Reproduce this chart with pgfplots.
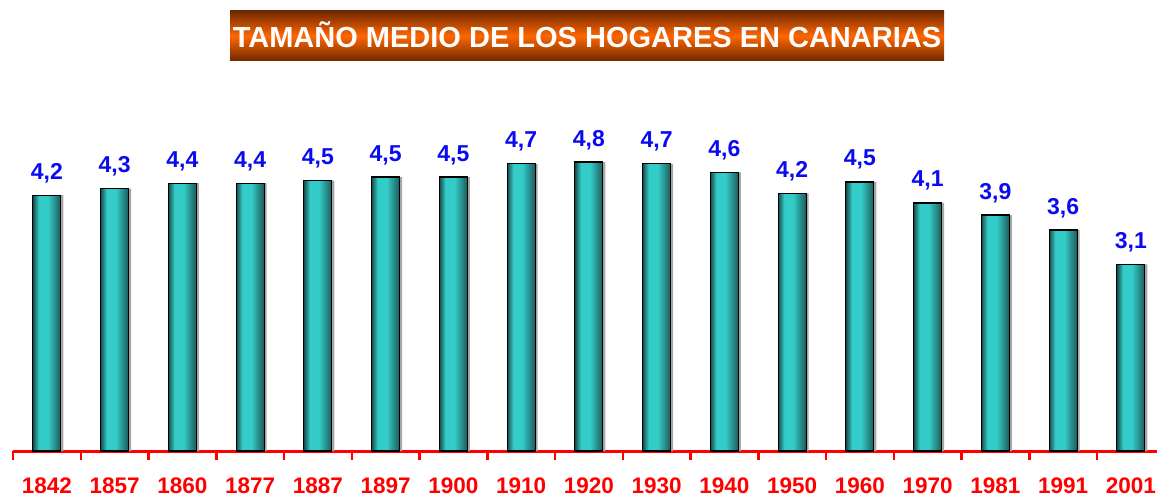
\documentclass[border=0pt]{standalone}
\usepackage{pgfplots}
\pgfplotsset{compat=1.18}
\usepackage{pgfplotstable}
\usepackage{fontspec}
\setmainfont{Liberation Sans}
\definecolor{barlight}{HTML}{34CCC8}
\definecolor{bardarkL}{HTML}{184C4C}
\definecolor{bardarkR}{HTML}{1C5A5A}
\definecolor{titdark}{HTML}{6E2800}
\definecolor{titlight}{HTML}{FF6600}
\definecolor{lblblue}{HTML}{0A0AF0}
\pgfdeclarehorizontalshading{barshade}{100bp}{color(0bp)=(bardarkL); color(25bp)=(bardarkL); color(36bp)=(barlight); color(52bp)=(barlight); color(75bp)=(bardarkR); color(100bp)=(bardarkR)}
\pgfplotstableread{
x y lab
0 4.25 4,2
1 4.36 4,3
2 4.45 4,4
3 4.45 4,4
4 4.49 4,5
5 4.55 4,5
6 4.55 4,5
7 4.77 4,7
8 4.80 4,8
9 4.77 4,7
10 4.63 4,6
11 4.28 4,2
12 4.47 4,5
13 4.12 4,1
14 3.92 3,9
15 3.67 3,6
16 3.10 3,1
}\data
\begin{document}
\begin{tikzpicture}
\useasboundingbox (0,0) rectangle (1157pt,499pt);
\shade[top color=titdark, bottom color=titdark, middle color=titlight] (230pt,438pt) rectangle (944pt,488pt);
\node[anchor=base, inner sep=0pt, text=white, font=\fontsize{29}{34}\selectfont\bfseries] at (587pt,451pt) {TAMAÑO MEDIO DE LOS HOGARES EN CANARIAS};
\begin{axis}[
  at={(13pt,48pt)}, anchor=south west,
  scale only axis, width=1144pt, height=301pt,
  xmin=-0.5, xmax=16.385, ymin=0, ymax=5,
  axis x line=bottom, axis y line=none,
  x axis line style={-, draw=red, line width=3pt},
  xtick={0,...,16},
  xticklabels={1842,1857,1860,1877,1887,1897,1900,1910,1920,1930,1940,1950,1960,1970,1981,1991,2001},
  major tick length=0pt,
  minor xtick={-0.5,0.5,...,15.5},
  minor tick length=9pt,
  tick align=outside,
  minor tick style={draw=red, line width=2.5pt},
  xticklabel style={font=\fontsize{22.5}{26}\selectfont\bfseries, text=red, inner sep=0pt, anchor=north, yshift=-27pt},
  clip=false,
]
\addplot[ybar, bar width=28pt, bar shift=2.5pt, fill=black!35, draw=none] table[x=x,y=y]{\data};
\pgfplotsinvokeforeach{0,...,16}{
\addplot[ybar, bar width=28pt, bar shift=0pt, draw=black, line width=1.2pt,
  restrict x to domain=#1:#1,
  shading=barshade,
  nodes near coords, point meta=explicit symbolic,
  nodes near coords style={anchor=base, inner sep=0pt, yshift=16pt, text=lblblue, font=\fontsize{23}{27}\selectfont\bfseries}]
  table[x=x,y=y,meta=lab]{\data};
}
\end{axis}
\end{tikzpicture}
\end{document}
